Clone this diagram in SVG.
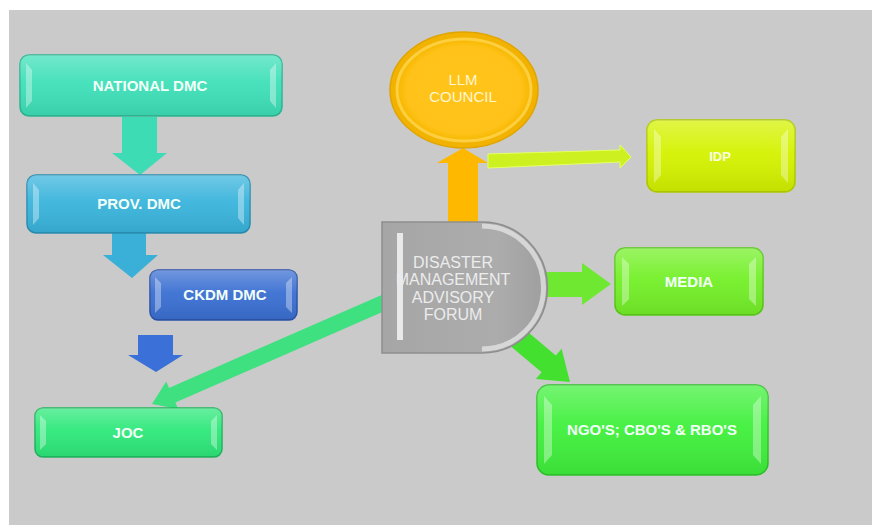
<svg xmlns="http://www.w3.org/2000/svg" width="872" height="525" viewBox="0 0 872 525">
<defs>
<linearGradient id="gloss" x1="0" y1="0" x2="0" y2="1">
<stop offset="0" stop-color="#ffffff" stop-opacity="0.28"/>
<stop offset="0.45" stop-color="#ffffff" stop-opacity="0.05"/>
<stop offset="1" stop-color="#000000" stop-opacity="0.08"/>
</linearGradient>
<linearGradient id="grayD" x1="0" y1="0" x2="1" y2="0">
<stop offset="0" stop-color="#a6a6a6"/>
<stop offset="0.7" stop-color="#acacac"/>
<stop offset="1" stop-color="#9e9e9e"/>
</linearGradient>
<radialGradient id="gold" cx="0.5" cy="0.5" r="0.5">
<stop offset="0" stop-color="#ffc41a"/>
<stop offset="0.85" stop-color="#ffc21a"/>
<stop offset="1" stop-color="#f6b800"/>
</radialGradient>
</defs>
<style>
.box{stroke-width:1.5}
.bev{fill:#ffffff;fill-opacity:0.35}
.gl{fill:url(#gloss)}
.lbl{font-family:"Liberation Sans",Arial,sans-serif;font-size:15px;font-weight:bold;fill:#f2fff8;text-anchor:middle}
.lbl2{font-family:"Liberation Sans",Arial,sans-serif;font-size:16px;fill:#ececec;text-anchor:middle}
.lbl3{font-family:"Liberation Sans",Arial,sans-serif;font-size:15px;fill:#fff6d0;text-anchor:middle}
</style>
<rect x="0" y="0" width="872" height="525" fill="#ffffff"/>
<rect x="9" y="10" width="863" height="515" fill="#cacaca"/>

<g id="connectors">
<polygon points="122,117 157,117 157,153 167,153 140,175 112,153 122,153" fill="#3edcb4"/>
<polygon points="112,233 146,233 146,255 158,255 132,278 103,255 112,255" fill="#3ab0d8"/>
<polygon points="138,335 173,335 173,355 183,355 156,372 128,355 138,355" fill="#3a70d8"/>
<polygon points="386.8,292.7 169,387.9 166.2,381.5 152,404 178.2,408.9 175.4,402.5 393.2,307.3" fill="#3ee080"/>
<polygon points="448,230 478,230 478,163 488,163 463,148 437,163 448,163" fill="#ffb800"/>
<polygon points="488,154 620,150 620,145 631,157 620,168 620,162 488,168" fill="#ccf020" stroke="#e4ff60" stroke-width="1"/>
<polygon points="546,272 582,272 582,263 611,284 582,305 582,297 546,297" fill="#6ee830"/>
<polygon points="504.9,341.4 541.6,372.3 535.8,379.1 570,382 561.6,348.7 555.8,355.5 519.1,324.6" fill="#44e030"/>
</g>

<g id="national-dmc">
<rect class="box" x="20" y="55" width="262" height="61" rx="9" fill="#3ee0b8" stroke="#2cb893"/>
<rect x="20" y="55" width="262" height="61" rx="9" class="gl"/>
<path class="bev" d="M26,63 L32,70 L32,101 L26,108 Z M276,63 L270,70 L270,101 L276,108 Z"/>
<text class="lbl" x="150" y="91">NATIONAL DMC</text>
</g>

<g id="prov-dmc">
<rect class="box" x="27" y="175" width="223" height="58" rx="9" fill="#3ab4dc" stroke="#2a8fb2"/>
<rect x="27" y="175" width="223" height="58" rx="9" class="gl"/>
<path class="bev" d="M33,183 L39,190 L39,218 L33,225 Z M244,183 L238,190 L238,218 L244,225 Z"/>
<text class="lbl" x="139" y="209">PROV. DMC</text>
</g>

<g id="ckdm-dmc">
<rect class="box" x="150" y="270" width="147" height="50" rx="8" fill="#3a6fd2" stroke="#2a52a8"/>
<rect x="150" y="270" width="147" height="50" rx="8" class="gl"/>
<path class="bev" d="M155,277 L161,283 L161,307 L155,313 Z M292,277 L286,283 L286,307 L292,313 Z"/>
<text class="lbl" x="225" y="300">CKDM DMC</text>
</g>

<g id="joc">
<rect class="box" x="35" y="408" width="187" height="49" rx="8" fill="#2ee87a" stroke="#22b45e"/>
<rect x="35" y="408" width="187" height="49" rx="8" class="gl"/>
<path class="bev" d="M40,415 L46,421 L46,444 L40,450 Z M217,415 L211,421 L211,444 L217,450 Z"/>
<text class="lbl" x="128" y="438">JOC</text>
</g>

<g id="llm-council">
<ellipse cx="464" cy="90" rx="74" ry="58" fill="#f2b200" stroke="#e0a400" stroke-width="1.5"/>
<ellipse cx="464" cy="90" rx="67" ry="51" fill="url(#gold)" stroke="#ffd650" stroke-width="3" stroke-opacity="0.8"/>
<text class="lbl3" x="463" y="85">LLM</text>
<text class="lbl3" x="463" y="102">COUNCIL</text>
</g>

<g id="idp">
<rect class="box" x="647" y="120" width="148" height="72" rx="10" fill="#d4f200" stroke="#b0cc00"/>
<rect x="647" y="120" width="148" height="72" rx="10" class="gl"/>
<path class="bev" d="M654,129 L661,137 L661,175 L654,183 Z M788,129 L781,137 L781,175 L788,183 Z"/>
<text class="lbl" x="720" y="161" style="font-size:13px;fill:#f8ffe0">IDP</text>
</g>

<g id="media">
<rect class="box" x="615" y="248" width="148" height="67" rx="10" fill="#74f028" stroke="#58c818"/>
<rect x="615" y="248" width="148" height="67" rx="10" class="gl"/>
<path class="bev" d="M622,257 L629,264 L629,299 L622,306 Z M756,257 L749,264 L749,299 L756,306 Z"/>
<text class="lbl" x="689" y="287">MEDIA</text>
</g>

<g id="ngos">
<rect class="box" x="537" y="385" width="231" height="90" rx="12" fill="#40f03c" stroke="#2cc428"/>
<rect x="537" y="385" width="231" height="90" rx="12" class="gl"/>
<path class="bev" d="M544,396 L552,405 L552,455 L544,464 Z M761,396 L753,405 L753,455 L761,464 Z"/>
<text class="lbl" x="652" y="435">NGO'S; CBO'S &amp; RBO'S</text>
</g>

<g id="dmaf">
<path d="M382,222 L482,222 A65.5,65.5 0 0 1 482,353 L382,353 Z" fill="url(#grayD)" stroke="#8e8e8e" stroke-width="1.5"/>
<path d="M482,226 A61.5,61.5 0 0 1 482,349" fill="none" stroke="#e2e2e2" stroke-width="5" stroke-opacity="0.8"/>
<rect x="397" y="233" width="6" height="107" fill="#f4f4f4" fill-opacity="0.85"/>
<text class="lbl2" x="453" y="268">DISASTER</text>
<text class="lbl2" x="453" y="285">MANAGEMENT</text>
<text class="lbl2" x="453" y="303">ADVISORY</text>
<text class="lbl2" x="453" y="320">FORUM</text>
</g>
</svg>
